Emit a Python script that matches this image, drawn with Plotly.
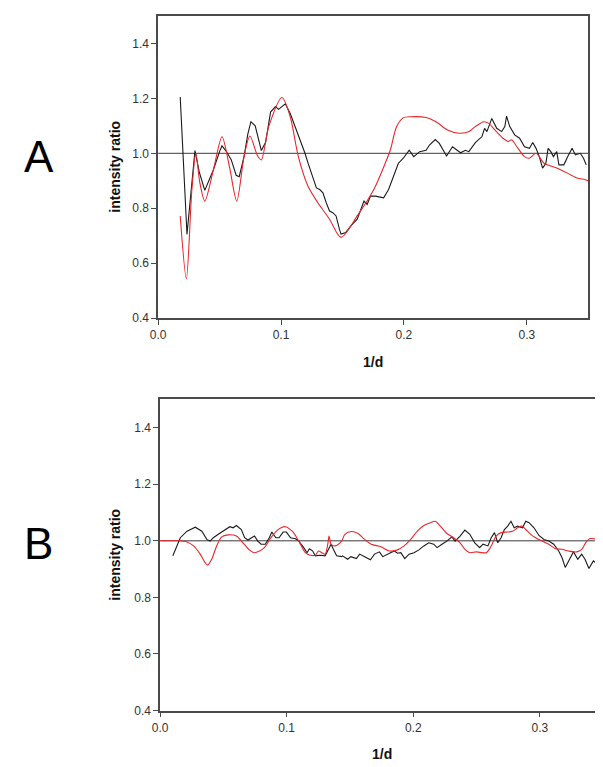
import plotly.graph_objects as go

# ---------------- data ----------------
# Panel A
a_black_x = [0.018, 0.0235, 0.030, 0.0336, 0.038, 0.045, 0.050, 0.052, 0.055, 0.0595, 0.0635, 0.066,
             0.070, 0.073, 0.0755, 0.079, 0.084, 0.0875, 0.0915, 0.0955, 0.098, 0.1035, 0.1075, 0.1115,
             0.117, 0.1195, 0.122, 0.1248, 0.1288, 0.1315, 0.1341, 0.1368, 0.1395, 0.1421, 0.1448,
             0.1475, 0.1488, 0.1528, 0.1568, 0.162,
             0.1648, 0.1675, 0.1701, 0.1728, 0.1768, 0.1835, 0.1875, 0.1915, 0.1955, 0.1995, 0.2043, 0.208,
             0.2128, 0.218, 0.2208, 0.2255, 0.2288, 0.2347, 0.2395, 0.2461, 0.25, 0.2528, 0.2581,
             0.2635, 0.2656, 0.2675, 0.2715, 0.2755, 0.2795, 0.2821, 0.2835, 0.2861, 0.2901, 0.2941,
             0.2981, 0.3021, 0.3048, 0.3075, 0.3101, 0.3128, 0.3155, 0.3173, 0.3195, 0.3216, 0.3243,
             0.3261, 0.3301, 0.3333, 0.3368, 0.3395, 0.3435, 0.3461, 0.3483]
a_black_y = [1.205, 0.705, 1.01, 0.93, 0.865, 0.94, 1.006, 1.027, 1.01, 0.977, 0.92, 0.915,
             0.99, 1.07, 1.115, 1.10, 1.01, 1.04, 1.15, 1.17, 1.16, 1.18, 1.145, 1.097,
             1.037, 1.0, 0.964, 0.928, 0.874, 0.868, 0.856, 0.82, 0.79, 0.784, 0.772,
             0.724, 0.706, 0.712, 0.736, 0.76,
             0.79, 0.826, 0.814, 0.844, 0.844, 0.838, 0.868, 0.916, 0.964, 0.982, 1.011, 0.988,
             1.006, 1.011, 1.03, 1.05, 1.036, 0.99, 1.024, 1.002, 1.011, 1.006, 1.039,
             1.061, 1.091, 1.079, 1.127, 1.091, 1.079, 1.097, 1.135, 1.097, 1.067, 1.055,
             1.024, 1.018, 1.039, 1.018, 0.988, 0.946, 0.964, 1.018, 1.006, 0.988, 1.006,
             0.958, 0.958, 0.988, 1.018, 0.994, 1.0, 0.982, 0.958]

a_red_x = [0.018, 0.023, 0.0275, 0.0307, 0.034, 0.038, 0.045, 0.052, 0.058, 0.064, 0.070, 0.0747,
           0.081, 0.084, 0.090, 0.1008, 0.1075, 0.114, 0.122, 0.130, 0.1395, 0.1488, 0.162, 0.1755,
           0.1848, 0.189, 0.194, 0.1995, 0.206, 0.218, 0.226, 0.2355, 0.245, 0.253, 0.258, 0.265,
           0.269, 0.274, 0.2808, 0.2848, 0.2875, 0.2928, 0.298, 0.302, 0.3075, 0.314, 0.3248,
           0.3355, 0.3408, 0.3475, 0.35]
a_red_y = [0.772, 0.543, 0.868, 1.0, 0.892, 0.826, 0.94, 1.06, 0.952, 0.826, 0.99, 1.063,
           0.99, 0.976, 1.097, 1.203, 1.133, 0.99, 0.88, 0.82, 0.76, 0.694, 0.772, 0.868,
           0.964, 1.013, 1.097, 1.129, 1.133, 1.13, 1.115, 1.085, 1.073, 1.079, 1.097, 1.115,
           1.109, 1.085, 1.054, 1.043, 1.049, 1.018, 0.988, 0.982, 1.0, 0.964, 0.946,
           0.922, 0.91, 0.904, 0.90]

# Panel B
b_black_x = [0.0101, 0.016, 0.0213, 0.0278, 0.033, 0.0369, 0.0395, 0.0421, 0.046, 0.0512, 0.0551,
             0.0577, 0.0603, 0.0642, 0.0668, 0.0694, 0.072, 0.0746, 0.0772, 0.0798, 0.0831, 0.0863,
             0.0883, 0.0915, 0.094, 0.0972, 0.0998, 0.1031, 0.107, 0.1096, 0.1135, 0.1161, 0.118,
             0.1206, 0.1226, 0.1265, 0.1304, 0.133, 0.1351, 0.1369, 0.1395, 0.1434, 0.1442, 0.1482,
             0.1508, 0.1551, 0.1577, 0.1616, 0.1662, 0.1694, 0.1733, 0.1759, 0.1798, 0.185, 0.1876,
             0.1902, 0.1933, 0.1967, 0.2006, 0.2045, 0.2084, 0.2123, 0.2162, 0.2188, 0.2227, 0.2266,
             0.2305, 0.2331, 0.237, 0.2408, 0.2447, 0.2486, 0.2525, 0.2551, 0.259, 0.2616, 0.2642,
             0.2668, 0.2694, 0.272, 0.2746, 0.2772, 0.2798, 0.2824, 0.2863, 0.2889, 0.2915, 0.2954,
             0.2993, 0.3033, 0.3071, 0.311, 0.3149, 0.3175, 0.3201, 0.3232, 0.3266, 0.33, 0.3331,
             0.3357, 0.3388, 0.3423, 0.3462, 0.349]
b_black_y = [0.947, 1.011, 1.034, 1.048, 1.034, 1.005, 0.999, 1.011, 1.023, 1.04, 1.05,
             1.046, 1.054, 1.04, 1.011, 1.003, 1.011, 1.017, 0.999, 0.988, 0.988, 1.011,
             1.031, 1.011, 1.011, 1.031, 1.031, 1.011, 1.007, 0.999, 0.976, 0.958, 0.972,
             0.964, 0.947, 0.949, 0.947, 0.97, 0.988, 0.97, 0.947, 0.944, 0.947, 0.935,
             0.944, 0.937, 0.953, 0.944, 0.933, 0.953, 0.961, 0.944, 0.953, 0.964, 0.956,
             0.958, 0.937, 0.953, 0.958, 0.968, 0.982, 0.993, 0.988, 0.976, 0.988, 0.999,
             1.014, 0.999, 1.017, 1.038, 1.023, 0.993, 0.976, 0.988, 0.982, 1.011, 1.029,
             0.993, 1.011, 1.04, 1.052, 1.069, 1.046, 1.052, 1.046, 1.069, 1.064, 1.046,
             1.019, 1.005, 0.999, 0.988, 0.964, 0.941, 0.906, 0.935, 0.961, 0.935, 0.953,
             0.935, 0.902, 0.929, 0.914, 0.935]

b_red_x = [0.0, 0.0148, 0.0213, 0.0265, 0.0317, 0.0356, 0.0374, 0.0408, 0.0447, 0.0486, 0.0538,
           0.0603, 0.0655, 0.0707, 0.0746, 0.0785, 0.0824, 0.0876, 0.0928, 0.0987, 0.1044, 0.1096,
           0.1148, 0.1187, 0.1226, 0.1252, 0.1278, 0.1304, 0.1325, 0.1335, 0.1351, 0.1382, 0.1434,
           0.146, 0.1512, 0.1564, 0.1616, 0.1668, 0.1746, 0.1811, 0.1876, 0.1928, 0.198, 0.2032,
           0.2084, 0.2136, 0.2175, 0.2214, 0.2266, 0.2318, 0.237, 0.2408, 0.2447, 0.2499, 0.2577,
           0.2616, 0.2655, 0.2694, 0.2746, 0.2785, 0.2824, 0.2858, 0.2889, 0.2928, 0.2967, 0.3019,
           0.3071, 0.3123, 0.3175, 0.3227, 0.3292, 0.3331, 0.3371, 0.3397, 0.3436, 0.3462, 0.35]
b_red_y = [1.0, 1.0, 0.996, 0.982, 0.953, 0.923, 0.914, 0.935, 0.982, 1.014, 1.021,
           1.017, 0.993, 0.967, 0.958, 0.964, 0.976, 1.011, 1.038, 1.05, 1.034, 0.999,
           0.958, 0.949, 0.949, 0.964, 0.958, 0.953, 0.988, 1.017, 0.988, 0.982, 0.999,
           1.023, 1.033, 1.026, 1.005, 0.988, 0.979, 0.964, 0.968, 0.982, 1.005, 1.034,
           1.054, 1.064, 1.069, 1.052, 1.026, 1.011, 0.993, 0.97, 0.958, 0.961, 0.958,
           0.982, 1.017, 1.029, 1.031, 1.034, 1.046, 1.052, 1.04, 1.023, 1.011, 0.999,
           0.988, 0.972, 0.97, 0.964, 0.961, 0.97, 0.999, 1.008, 1.007, 1.005, 0.995]

reference_level = 1.0
x_range = [0.0, 0.35]
y_range = [0.4, 1.5]
x_ticks = [0.0, 0.1, 0.2, 0.3]
y_ticks = [0.4, 0.6, 0.8, 1.0, 1.2, 1.4]
panel_labels = ["A", "B"]
x_title = "1/d"
y_title = "intensity ratio"

# ---------------- figure ----------------
W, H = 603, 767
FONT = "Liberation Sans, Arial, sans-serif"
BLACK = "#1a1a1a"
RED = "#e8262b"

fig = go.Figure()

panels = [
    dict(xa="x", ya="y", black=(a_black_x, a_black_y), red=(a_red_x, a_red_y)),
    dict(xa="x2", ya="y2", black=(b_black_x, b_black_y), red=(b_red_x, b_red_y)),
]
for p in panels:
    fig.add_trace(go.Scatter(x=x_range, y=[reference_level, reference_level], mode="lines",
                             line=dict(color="#3a3a3a", width=1), xaxis=p["xa"], yaxis=p["ya"],
                             hoverinfo="skip", showlegend=False))
    fig.add_trace(go.Scatter(x=p["black"][0], y=p["black"][1], mode="lines",
                             line=dict(color=BLACK, width=1.1), xaxis=p["xa"], yaxis=p["ya"],
                             showlegend=False))
    fig.add_trace(go.Scatter(x=p["red"][0], y=p["red"][1], mode="lines",
                             line=dict(color=RED, width=1.1, shape="spline", smoothing=0.8),
                             xaxis=p["xa"], yaxis=p["ya"], showlegend=False))

axis_common = dict(showline=True, linecolor="#4a4a4a", linewidth=1.5, mirror=True,
                   showgrid=False, zeroline=False, ticks="outside", ticklen=5, tickwidth=1,
                   tickcolor="#4a4a4a", tickfont=dict(family=FONT, size=12, color="#333"))

# pixel geometry of the two plotting areas
A_box = (144, 580, 8, 313)   # left, right, top, bottom
B_box = (146, 595, 395, 709)

def xdom(b):
    return [b[0] / W, b[1] / W]

def ydom(b):
    return [1 - b[3] / H, 1 - b[2] / H]

fig.update_layout(
    width=W, height=H, margin=dict(l=0, r=0, t=0, b=0),
    paper_bgcolor="white", plot_bgcolor="white",
    xaxis=dict(domain=xdom(A_box), range=x_range, tickvals=x_ticks, tickformat=".1f",
               anchor="y", **axis_common),
    yaxis=dict(domain=ydom(A_box), range=y_range, tickvals=y_ticks, tickformat=".1f",
               anchor="x", **axis_common),
    xaxis2=dict(domain=xdom(B_box), range=x_range, tickvals=x_ticks, tickformat=".1f",
                anchor="y2", **axis_common),
    yaxis2=dict(domain=ydom(B_box), range=y_range, tickvals=y_ticks, tickformat=".1f",
                anchor="x2", **axis_common),
)

ann = []
for box, letter in zip([A_box, B_box], panel_labels):
    cx = (box[0] + box[1]) / 2
    cy = (box[2] + box[3]) / 2
    ann.append(dict(text="<b>" + x_title + "</b>", x=cx / W, y=1 - (box[3] + 44) / H,
                    xref="paper", yref="paper", showarrow=False, xanchor="center", yanchor="middle",
                    font=dict(family=FONT, size=14, color="#111")))
    ann.append(dict(text="<b>" + y_title + "</b>", x=100 / W, y=1 - cy / H, textangle=-90,
                    xref="paper", yref="paper", showarrow=False, xanchor="center", yanchor="middle",
                    font=dict(family=FONT, size=14, color="#111")))
ann.append(dict(text=panel_labels[0], x=23 / W, y=1 - 150 / H, xref="paper", yref="paper",
                showarrow=False, xanchor="center", yanchor="middle",
                font=dict(family=FONT, size=44, color="#000")))
ann.append(dict(text=panel_labels[1], x=23 / W, y=1 - 540 / H, xref="paper", yref="paper",
                showarrow=False, xanchor="center", yanchor="middle",
                font=dict(family=FONT, size=44, color="#000")))
fig.update_layout(annotations=ann)

fig.write_html("out.html")
